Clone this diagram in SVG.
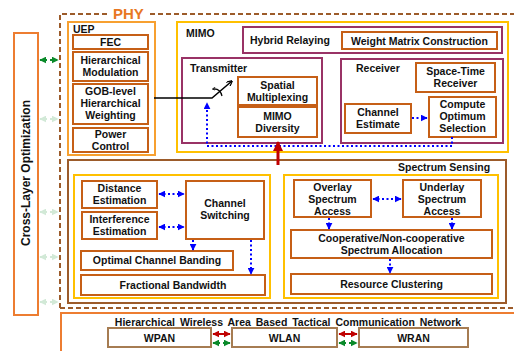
<svg xmlns="http://www.w3.org/2000/svg" width="514" height="351" viewBox="0 0 514 351">
<style>
text{font-family:"Liberation Sans","DejaVu Sans",sans-serif;font-weight:bold;font-size:10.5px;fill:#111}
.c{text-anchor:middle}
.ob{fill:#fff;stroke:#C65F16;stroke-width:2}
.yb{fill:none;stroke:#FFC000;stroke-width:2}
.ub{fill:none;stroke:#F7A030;stroke-width:2}
.pb{fill:none;stroke:#993366;stroke-width:2}
.bb{fill:none;stroke:#9C5B2A;stroke-width:2}
.nb{fill:#fff;stroke:#A67C52;stroke-width:2}
.bl{fill:none;stroke:#0000FF;stroke-width:2;stroke-dasharray:2 2.5}
.gr{fill:none;stroke:#0A8A2A;stroke-width:2;stroke-dasharray:2 3}
.gf{fill:none;stroke:#0A8A2A;stroke-width:2;stroke-dasharray:2 3;opacity:0.18}
.rd{fill:none;stroke:#C00000;stroke-width:2}
</style>
<defs>
<marker id="ab" viewBox="0 0 10 10" refX="9" refY="5" markerWidth="3.5" markerHeight="3.5" orient="auto-start-reverse"><path d="M0,0L10,5L0,10z" fill="#0000FF"/></marker>
<marker id="ag" viewBox="0 0 10 10" refX="9" refY="5" markerWidth="3.5" markerHeight="3.5" orient="auto-start-reverse"><path d="M0,0L10,5L0,10z" fill="#0A8A2A"/></marker>
<marker id="ar" viewBox="0 0 10 10" refX="9" refY="5" markerWidth="3.5" markerHeight="3.5" orient="auto-start-reverse"><path d="M0,0L10,5L0,10z" fill="#C00000"/></marker>
<marker id="ak" viewBox="0 0 10 10" refX="9" refY="5" markerWidth="4" markerHeight="4" orient="auto"><path d="M0,0L10,5L0,10" fill="none" stroke="#000" stroke-width="2"/></marker>
<marker id="ak2" viewBox="0 0 10 10" refX="8" refY="5" markerWidth="3" markerHeight="3" orient="auto"><path d="M0,0L10,5L0,10" fill="none" stroke="#000" stroke-width="2"/></marker>
</defs>
<rect width="514" height="351" fill="#fff"/>

<g id="cross-layer">
<rect x="14" y="33" width="24" height="282" fill="#fff" stroke="#ED7D31" stroke-width="2"/>
<text class="c" transform="translate(30,173) rotate(-90)" style="font-size:12px">Cross-Layer Optimization</text>
</g>

<g id="phy">
<path d="M60,308 V14 H514" fill="none" stroke="#9C5B2A" stroke-width="2" stroke-dasharray="5 3"/>
<path d="M60,308 H514" fill="none" stroke="#9C5B2A" stroke-width="2" stroke-dasharray="5 3"/>
<rect x="108" y="6" width="42" height="14" fill="#fff"/>
<text x="113" y="19" style="font-size:15px;fill:#E87722">PHY</text>
</g>

<g id="uep">
<rect class="ub" x="68" y="22" width="87" height="133"/>
<text x="73" y="33">UEP</text>
</g>
<g id="fec"><rect class="ob" x="73" y="35" width="75" height="14"/><text class="c" x="110.5" y="46">FEC</text></g>
<g id="hier-mod"><rect class="ob" x="73" y="52" width="75" height="29"/><text class="c" x="110.5" y="64">Hierarchical</text><text class="c" x="110.5" y="76">Modulation</text></g>
<g id="gob"><rect class="ob" x="73" y="84" width="75" height="40"/><text class="c" x="110.5" y="95">GOB-level</text><text class="c" x="110.5" y="107">Hierarchical</text><text class="c" x="110.5" y="119">Weighting</text></g>
<g id="power"><rect class="ob" x="73" y="128" width="75" height="24"/><text class="c" x="110.5" y="138">Power</text><text class="c" x="110.5" y="150">Control</text></g>

<g id="mimo">
<rect class="yb" x="177" y="22" width="331" height="130"/>
<text x="186" y="37">MIMO</text>
</g>
<g id="hybrid"><rect class="pb" x="243" y="27" width="259" height="26"/><text x="250" y="44">Hybrid Relaying</text></g>
<g id="weight"><rect class="ob" x="342" y="32" width="155" height="17"/><text class="c" x="419.5" y="44.5">Weight Matrix Construction</text></g>
<g id="transmitter"><rect class="pb" x="182" y="58" width="140" height="85"/><text x="190" y="72">Transmitter</text></g>
<g id="spatial"><rect class="ob" x="238" y="77" width="79" height="28"/><text class="c" x="277.5" y="88.5">Spatial</text><text class="c" x="277.5" y="100.5">Multiplexing</text></g>
<g id="diversity"><rect class="ob" x="238" y="107" width="79" height="30"/><text class="c" x="277.5" y="120">MIMO</text><text class="c" x="277.5" y="132">Diversity</text></g>
<g id="receiver"><rect class="pb" x="341" y="59" width="162" height="84"/><text x="356" y="72">Receiver</text></g>
<g id="spacetime"><rect class="ob" x="416" y="63" width="79" height="29"/><text class="c" x="455.5" y="75">Space-Time</text><text class="c" x="455.5" y="87">Receiver</text></g>
<g id="compute"><rect class="ob" x="429" y="97" width="67" height="40"/><text class="c" x="462.5" y="108">Compute</text><text class="c" x="462.5" y="120">Optimum</text><text class="c" x="462.5" y="132">Selection</text></g>
<g id="chest"><rect class="ob" x="345" y="104" width="66" height="29"/><text class="c" x="378" y="116">Channel</text><text class="c" x="378" y="128">Estimate</text></g>

<g id="lower">
<rect class="bb" x="68" y="160" width="438" height="143"/>
<text x="398" y="171">Spectrum Sensing</text>
<rect class="yb" x="74" y="175" width="196" height="123"/>
<rect class="yb" x="284" y="175" width="214" height="123"/>
</g>
<g id="distance"><rect class="ob" x="82" y="181" width="75" height="27"/><text class="c" x="119.5" y="192">Distance</text><text class="c" x="119.5" y="204">Estimation</text></g>
<g id="interference"><rect class="ob" x="82" y="212" width="75" height="27"/><text class="c" x="119.5" y="223">Interference</text><text class="c" x="119.5" y="235">Estimation</text></g>
<g id="chswitch"><rect class="ob" x="186" y="181" width="78" height="58"/><text class="c" x="225" y="207">Channel</text><text class="c" x="225" y="219">Switching</text></g>
<g id="banding"><rect class="ob" x="81" y="251" width="152" height="19"/><text class="c" x="157" y="264">Optimal Channel Banding</text></g>
<g id="fractional"><rect class="ob" x="81" y="275" width="184" height="20"/><text class="c" x="173" y="289">Fractional Bandwidth</text></g>
<g id="overlay"><rect class="ob" x="294" y="180" width="77" height="37"/><text class="c" x="332.5" y="191">Overlay</text><text class="c" x="332.5" y="203">Spectrum</text><text class="c" x="332.5" y="215">Access</text></g>
<g id="underlay"><rect class="ob" x="403" y="180" width="78" height="37"/><text class="c" x="442" y="191">Underlay</text><text class="c" x="442" y="203">Spectrum</text><text class="c" x="442" y="215">Access</text></g>
<g id="coop"><rect class="ob" x="291" y="230" width="201" height="28"/><text class="c" x="391.5" y="242">Cooperative/Non-cooperative</text><text class="c" x="391.5" y="254">Spectrum Allocation</text></g>
<g id="clustering"><rect class="ob" x="291" y="274" width="201" height="20"/><text class="c" x="391.5" y="288">Resource Clustering</text></g>

<g id="network">
<rect x="61" y="313" width="460" height="50" fill="none" stroke="#ED7D31" stroke-width="2"/>
<text class="c" x="288" y="326" style="word-spacing:2px">Hierarchical Wireless Area Based Tactical Communication Network</text>
</g>
<g id="wpan"><rect class="nb" x="108" y="328" width="103" height="19"/><text class="c" x="159.5" y="341.5">WPAN</text></g>
<g id="wlan"><rect class="nb" x="232" y="328" width="105" height="19"/><text class="c" x="284.5" y="341.5">WLAN</text></g>
<g id="wran"><rect class="nb" x="359" y="328" width="109" height="19"/><text class="c" x="413.5" y="341.5">WRAN</text></g>

<g id="connectors">
<path class="gr" d="M40,60 H58" marker-start="url(#ag)" marker-end="url(#ag)"/>
<path class="gf" d="M40,119 H58" marker-start="url(#ag)" marker-end="url(#ag)"/>
<path class="gf" d="M40,212 H58" marker-start="url(#ag)" marker-end="url(#ag)"/>
<path class="gf" d="M40,257 H58" marker-start="url(#ag)" marker-end="url(#ag)"/>
<path class="gf" d="M40,302 H58" marker-start="url(#ag)" marker-end="url(#ag)"/>
<path d="M154,98 H212 L232,81" fill="none" stroke="#000" stroke-width="1.5" marker-end="url(#ak)"/>
<path d="M222,96 Q220,88 213,89" fill="none" stroke="#000" stroke-width="1.2" marker-end="url(#ak2)"/>
<path class="bl" d="M452,137 V146 H207 V103" marker-end="url(#ab)"/>
<path class="bl" d="M412,118 H427" marker-end="url(#ab)"/>
<path d="M278,165 V142" fill="none" stroke="#C00000" stroke-width="3" marker-end="url(#ar)"/>
<path class="bl" d="M159,194 H184" marker-start="url(#ab)" marker-end="url(#ab)"/>
<path class="bl" d="M159,227 H184" marker-start="url(#ab)" marker-end="url(#ab)"/>
<path class="bl" d="M193,240 V250" marker-end="url(#ab)"/>
<path class="bl" d="M251,240 V274" marker-end="url(#ab)"/>
<path class="bl" d="M373,199 H401" marker-start="url(#ab)" marker-end="url(#ab)"/>
<path class="bl" d="M329,218 V229" marker-end="url(#ab)"/>
<path class="bl" d="M452,218 V229" marker-end="url(#ab)"/>
<path class="bl" d="M390,259 V273" marker-end="url(#ab)"/>
<path class="rd" d="M213,334 H230" marker-start="url(#ar)" marker-end="url(#ar)"/>
<path class="gr" d="M213,343 H230" marker-start="url(#ag)" marker-end="url(#ag)"/>
<path class="rd" d="M339,334 H357" marker-start="url(#ar)" marker-end="url(#ar)"/>
<path class="gr" d="M339,343 H357" marker-start="url(#ag)" marker-end="url(#ag)"/>
</g>
</svg>
